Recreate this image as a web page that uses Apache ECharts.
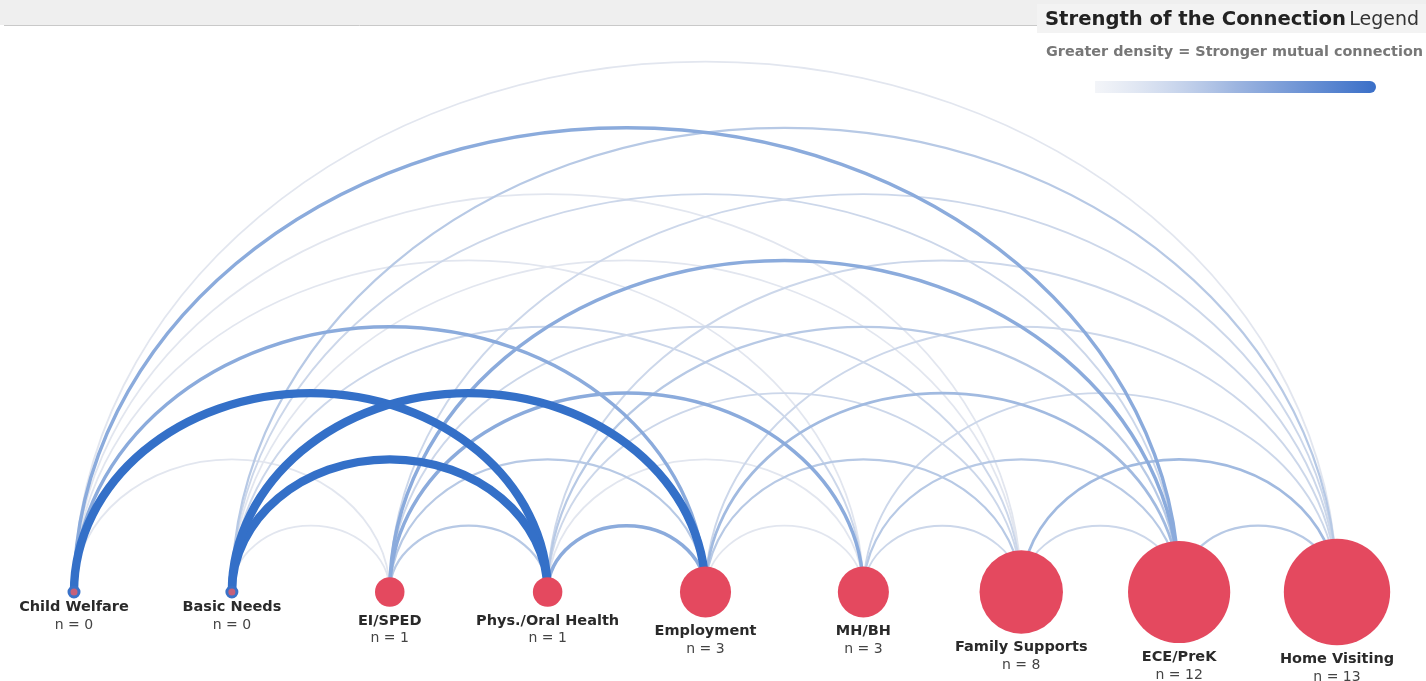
<!DOCTYPE html>
<html><head><meta charset="utf-8">
<script src="https://cdn.jsdelivr.net/npm/echarts@6/dist/echarts.min.js"></script>
<style>html,body{margin:0;padding:0;background:#fff}#c{width:1426px;height:681px}</style>
</head><body><div id="c"></div><script>
// ---- data ----
const nodeNames = ['Child Welfare','Basic Needs','EI/SPED','Phys./Oral Health','Employment','MH/BH','Family Supports','ECE/PreK','Home Visiting'];
const nodeCounts = [0,0,1,1,3,3,8,12,13];
const linkSource   = [0,0,0,0,0,0,0, 1,1,1,1,1,1,1, 2,2,2,2,2,2, 3,3,3,3,3, 4,4,4,4, 5,5,5, 6,6, 7];
const linkTarget   = [2,3,4,5,6,7,8, 2,3,4,5,6,7,8, 3,4,5,6,7,8, 4,5,6,7,8, 5,6,7,8, 6,7,8, 7,8, 8];
const linkStrength = [1,5,3,1,1,3,1, 1,5,5,1.5,1,1.5,2, 2,2,3,1.5,3,1.5, 3,1,1.5,2,1.5, 1,2,2.5,1.5, 1.5,2,1.5, 1.5,2.5, 2];

const ARC_RATIO = 0.84;
const C0 = [226,230,239], C1 = [52,112,200];
function strengthColor(s){
  const t = Math.max(0, Math.min(1, (s-1)/4));
  const c = C0.map((v,i)=>Math.round(v+(C1[i]-v)*t));
  return 'rgb('+c.join(',')+')';
}
function strengthWidth(s){
  const t = Math.max(0, Math.min(1, (s-1)/4));
  return 1.8 + 6.6*t*t;
}

const links = linkSource.map((s,i)=>[s, linkTarget[i], linkStrength[i]])
  .sort((a,b)=>a[2]-b[2]);
const nodes = nodeCounts.map((n,i)=>({value:[i,0,n,nodeNames[i]], label:{distance: n===0 ? 1 : 5}}));

const chart = echarts.init(document.getElementById('c'));
chart.setOption({
  animation:false,
  backgroundColor:'#fff',
  grid:{left:74, right:89, top:30, bottom:89},
  xAxis:{type:'value', min:0, max:8, show:false},
  yAxis:{type:'value', min:0, max:10, show:false},
  graphic:[
    {type:'rect', shape:{x:0,y:0,width:1426,height:25}, style:{fill:'#efefef'}, z:-1},
    {type:'line', shape:{x1:4,y1:25.5,x2:1426,y2:25.5}, style:{stroke:'#c9c9c9', lineWidth:1}},
    {type:'rect', shape:{x:1037,y:4,width:389,height:29}, style:{fill:'#f3f3f3'}},
    {type:'text', left:1045, top:10, style:{
      text:'{b|Strength of the Connection} {n|Legend}',
      rich:{b:{fontFamily:'DejaVu Sans', fontWeight:'bold', fontSize:19.6, fill:'#222'},
            n:{fontFamily:'DejaVu Sans', fontSize:19, fill:'#333'}}}},
    {type:'text', left:1046, top:45, style:{text:'Greater density = Stronger mutual connection',
      fontFamily:'DejaVu Sans', fontWeight:'bold', fontSize:14.4, fill:'#777'}},
    {type:'rect', shape:{x:1095,y:81,width:281,height:12,r:[0,6,6,0]}, style:{
      fill:new echarts.graphic.LinearGradient(0,0,1,0,[
        {offset:0,color:'rgba(235,238,244,0.6)'},{offset:0.5,color:'#9db5e0'},{offset:1,color:'#3a6fc8'}])}}
  ],
  series:[
    {
      type:'custom', coordinateSystem:'cartesian2d', data:links, z:2,
      renderItem:function(params, api){
        const s = api.value(0), t = api.value(1), w = api.value(2);
        const p1 = api.coord([s,0]), p2 = api.coord([t,0]);
        const a = (p2[0]-p1[0])/2, cx = p1[0]+a, y0 = p1[1];
        const h = a*ARC_RATIO, k = 0.5523;
        const d = 'M'+p1[0]+','+y0+' C'+p1[0]+','+(y0-k*h)+' '+(cx-k*a)+','+(y0-h)+' '+cx+','+(y0-h)+
                  ' C'+(cx+k*a)+','+(y0-h)+' '+p2[0]+','+(y0-k*h)+' '+p2[0]+','+y0;
        return {type:'path', shape:{pathData:d}, style:{fill:'none', stroke:strengthColor(w), lineWidth:strengthWidth(w), lineCap:'round'}};
      }
    },
    {
      type:'scatter', data:nodes, z:5,
      symbolSize:function(v){ return v[2]===0 ? 10 : 29.5*Math.sqrt(v[2]); },
      itemStyle:{color:'#e4495f', opacity:1, borderWidth:0},
      label:{show:true, position:'bottom',
        formatter:function(p){ return '{a|'+p.value[3]+'}\n{b|n = '+p.value[2]+'}'; },
        rich:{a:{fontFamily:'DejaVu Sans', fontWeight:'bold', fontSize:14.5, color:'#2a2a2a', lineHeight:18},
              b:{fontFamily:'DejaVu Sans', fontSize:14, color:'#444', lineHeight:18}}}
    },
    {
      type:'scatter', data:nodes.filter(d=>d.value[2]===0).map(d=>d.value), z:6, symbolSize:10,
      itemStyle:{color:'#c5607a', borderColor:'#3a72c8', borderWidth:3, opacity:1}, label:{show:false}
    }
  ]
});
</script></body></html>
